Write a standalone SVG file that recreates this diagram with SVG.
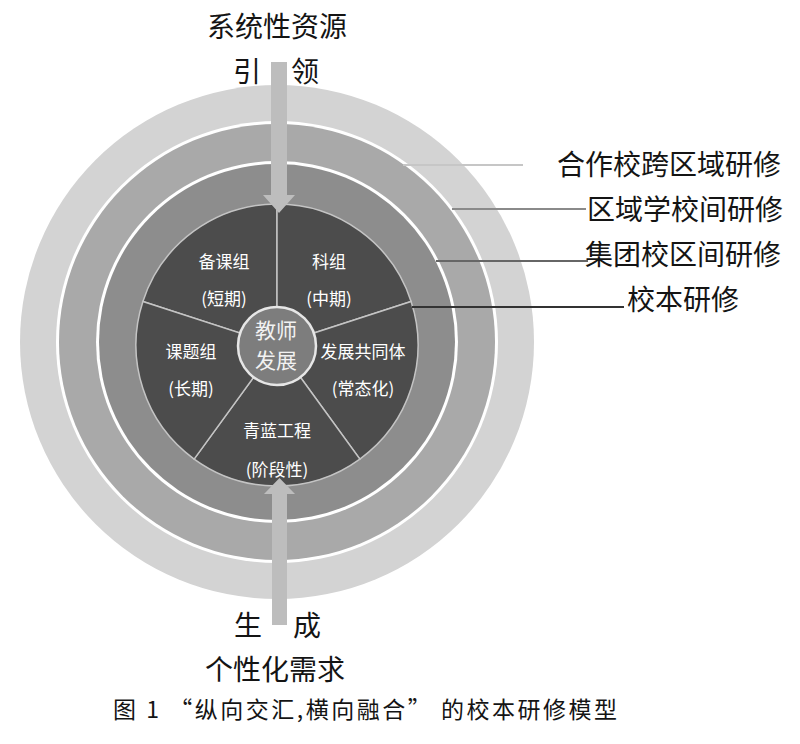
<svg xmlns="http://www.w3.org/2000/svg" width="800" height="744" viewBox="0 0 800 744">
<style>
.lbl{font-family:"Noto Sans CJK SC","Liberation Sans",sans-serif;font-size:28px;fill:#141414}
.in{font-family:"Noto Sans CJK SC","Liberation Sans",sans-serif;font-size:17px;fill:#ffffff;text-anchor:middle}
.ctr{font-family:"Noto Sans CJK SC","Liberation Sans",sans-serif;font-size:21px;fill:#f2f2f2;text-anchor:middle}
.seg{fill:#4c4c4c;stroke:#c4c4c4;stroke-width:1.5}
.lead{fill:none;stroke-width:2.2}
.arr{fill:#bdbdbd}
</style>
<rect width="800" height="744" fill="#ffffff"/>

<g id="ring-outer"><circle cx="277" cy="342" r="257" fill="#d3d3d3"/><circle cx="277" cy="342" r="221" fill="#ffffff"/></g>
<g id="ring-middle"><circle cx="277" cy="342" r="218" fill="#a9a9a9"/><circle cx="277" cy="342" r="181" fill="#ffffff"/></g>
<g id="ring-inner"><circle cx="277" cy="342" r="178" fill="#8d8d8d"/></g>

<g id="seg-beike"><path class="seg" d="M277,345 L142.9,301.43 A141,141 0 0 1 277,204 Z"/><text class="in" x="224" y="268">备课组</text><text class="in" x="224" y="305">(短期)</text></g>
<g id="seg-kezu"><path class="seg" d="M277,345 L277,204 A141,141 0 0 1 411.1,301.43 Z"/><text class="in" x="329" y="268">科组</text><text class="in" x="329" y="305">(中期)</text></g>
<g id="seg-fazhan"><path class="seg" d="M277,345 L411.1,301.43 A141,141 0 0 1 359.88,459.07 Z"/><text class="in" x="363" y="358">发展共同体</text><text class="in" x="363" y="395">(常态化)</text></g>
<g id="seg-qinglan"><path class="seg" d="M277,345 L359.88,459.07 A141,141 0 0 1 194.12,459.07 Z"/><text class="in" x="277" y="437">青蓝工程</text><text class="in" x="277" y="476">(阶段性)</text></g>
<g id="seg-keti"><path class="seg" d="M277,345 L194.12,459.07 A141,141 0 0 1 142.9,301.43 Z"/><text class="in" x="191" y="358">课题组</text><text class="in" x="191" y="395">(长期)</text></g>

<g id="center"><circle cx="277" cy="346" r="39" fill="#7d7d7d" stroke="#e6e6e6" stroke-width="2.5"/><text class="ctr" x="276" y="338">教师</text><text class="ctr" x="276" y="368">发展</text></g>

<g id="connectors">
<line class="lead" x1="403" y1="165" x2="523" y2="165" stroke="#c6c6c6"/>
<line class="lead" x1="452" y1="209" x2="586" y2="209" stroke="#8a8a8a"/>
<line class="lead" x1="436" y1="261" x2="588" y2="261" stroke="#666666"/>
<line class="lead" x1="412" y1="307" x2="624" y2="307" stroke="#333333"/>
<path class="arr" d="M271,62 H287 V195 H295 L279,213 L263,195 H271 Z"/>
<path class="arr" d="M272,625 H287 V494 H295 L279.5,478 L264,494 H272 Z"/>
</g>

<g id="labels">
<text class="lbl" x="557" y="175">合作校跨区域研修</text>
<text class="lbl" x="587" y="220">区域学校间研修</text>
<text class="lbl" x="585" y="265">集团校区间研修</text>
<text class="lbl" x="627" y="310">校本研修</text>
<text class="lbl" x="277" y="37" text-anchor="middle">系统性资源</text>
<text class="lbl" x="233" y="82">引</text>
<text class="lbl" x="291" y="82">领</text>
<text class="lbl" x="234" y="636">生</text>
<text class="lbl" x="293" y="636">成</text>
<text class="lbl" x="275" y="680" text-anchor="middle">个性化需求</text>
<text class="lbl" x="113" y="718" style="font-size:23px" textLength="504" lengthAdjust="spacing">图 1  “纵向交汇,横向融合” 的校本研修模型</text>
</g>
</svg>
